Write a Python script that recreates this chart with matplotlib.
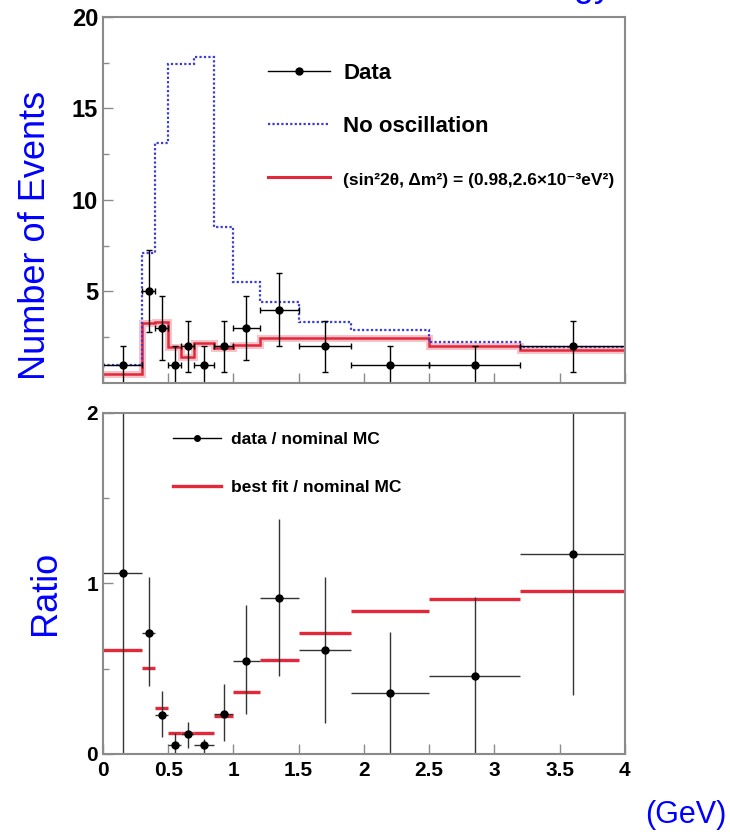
import numpy as np
import matplotlib
matplotlib.use("Agg")
import matplotlib.pyplot as plt
from matplotlib.lines import Line2D

plt.rcParams['font.family'] = ['Liberation Sans', 'DejaVu Sans']

#####################################################################################
# binning and contents
edges = [0.0, 0.3, 0.4, 0.5, 0.6, 0.7, 0.85, 1.0, 1.2, 1.5, 1.9, 2.5, 3.2, 4.0]

data_counts = [1, 5, 3, 1, 2, 1, 2, 3, 4, 2, 1, 1, 2]
data_err = [1.0, 2.24, 1.73, 1.0, 1.41, 1.0, 1.41, 1.73, 2.0, 1.41, 1.0, 1.0, 1.41]

no_osc = [1.0, 7.1, 13.1, 17.4, 17.4, 17.8, 8.5, 5.5, 4.45, 3.35, 2.9, 2.25, 1.95]
best_fit = [0.5, 3.25, 3.35, 1.95, 1.4, 2.2, 1.9, 2.05, 2.45, 2.45, 2.45, 2.0, 1.78]

ratio_data = [1.06, 0.71, 0.23, 0.055, 0.115, 0.055, 0.235, 0.545, 0.915, 0.61, 0.355, 0.46, 1.175]
ratio_lo = [0.0, 0.40, 0.10, 0.0, 0.035, 0.0, 0.075, 0.235, 0.455, 0.18, 0.0, 0.0, 0.345]
ratio_hi = [2.2, 1.04, 0.37, 0.125, 0.19, 0.09, 0.41, 0.875, 1.375, 1.04, 0.715, 0.92, 2.2]
ratio_fit = [0.61, 0.505, 0.27, 0.125, 0.12, 0.12, 0.225, 0.365, 0.55, 0.71, 0.84, 0.91, 0.955]

x_ticks = [0, 0.5, 1, 1.5, 2, 2.5, 3, 3.5, 4]
x_ticklabels = ['0', '0.5', '1', '1.5', '2', '2.5', '3', '3.5', '4']

#####################################################################################
blue = '#0000ff'
red = '#e3283a'
pink = '#f6a9b2'
dotblue = '#3b3bd6'
framecol = '#8a8a8a'

edges = np.array(edges)
centers = 0.5 * (edges[:-1] + edges[1:])
halfw = 0.5 * (edges[1:] - edges[:-1])

fig = plt.figure(figsize=(7.3, 8.32), dpi=100)
ax1 = fig.add_axes([0.141, 0.5397, 0.715, 0.440])
ax2 = fig.add_axes([0.141, 0.0938, 0.715, 0.410])

def style(ax, labsize):
    for s in ax.spines.values():
        s.set_color(framecol)
        s.set_linewidth(1.5)
    ax.tick_params(which='both', direction='in', color=framecol, width=1.0,
                   labelsize=labsize, top=False, right=False)
    ax.tick_params(which='major', length=7)
    ax.tick_params(which='minor', length=4)
    for t in ax.get_xticklabels() + ax.get_yticklabels():
        t.set_fontweight('bold')

#####################################################################################
# top panel: event counts
ax1.stairs(best_fit, edges, baseline=None, color=pink, lw=5, alpha=0.7)
ax1.stairs(best_fit, edges, baseline=None, color=red, lw=1.8)
ax1.stairs(no_osc, edges, baseline=None, color=dotblue, lw=1.6, linestyle=(0, (1, 1)))
ax1.errorbar(centers, data_counts, xerr=halfw, yerr=data_err, fmt='o', color='k',
             ms=5, elinewidth=1.0, capsize=2, capthick=1.0)

ax1.set_xlim(0, 4)
ax1.set_ylim(0, 20)
ax1.set_xticks(x_ticks)
ax1.set_xticklabels([])
ax1.set_yticks([5, 10, 15, 20])
ax1.set_yticks([2.5, 7.5, 12.5, 17.5], minor=True)
style(ax1, 17)

h1 = [Line2D([], [], color='k', marker='o', ms=5, lw=1.0),
      Line2D([], [], color=dotblue, lw=1.6, linestyle=(0, (1, 1))),
      Line2D([], [], color=red, lw=2.2)]
l1 = ['Data', 'No oscillation', '(sin²2θ, Δm²) = (0.98,2.6×10⁻³eV²)']
leg1 = ax1.legend(h1, l1, loc='upper left', bbox_to_anchor=(0.316, 0.874),
                  frameon=False, handlelength=2.8, handletextpad=0.6,
                  labelspacing=1.45, borderpad=0, borderaxespad=0,
                  prop={'weight': 'bold', 'size': 16})
leg1.get_texts()[2].set_fontsize(12.5)

#####################################################################################
# bottom panel: ratios to nominal MC
ax2.hlines(ratio_fit, edges[:-1], edges[1:], color=red, lw=2.4)
ratio_data = np.array(ratio_data)
yerr = [ratio_data - np.array(ratio_lo), np.array(ratio_hi) - ratio_data]
ax2.errorbar(centers, ratio_data, xerr=halfw, yerr=yerr, fmt='o', color='k',
             ecolor='#333333', ms=5, elinewidth=1.0, capsize=0)

ax2.set_xlim(0, 4)
ax2.set_ylim(0, 2)
ax2.set_xticks(x_ticks)
ax2.set_xticklabels(x_ticklabels)
ax2.set_yticks([0, 1, 2])
ax2.set_yticks([0.5, 1.5], minor=True)
style(ax2, 15)
ax2.tick_params(axis='x', pad=5)

h2 = [Line2D([], [], color='k', marker='o', ms=4, lw=1.0),
      Line2D([], [], color=red, lw=2.4)]
l2 = ['data / nominal MC', 'best fit / nominal MC']
ax2.legend(h2, l2, loc='upper left', bbox_to_anchor=(0.134, 0.945),
           frameon=False, handlelength=2.8, handletextpad=0.55,
           labelspacing=1.9, borderpad=0, borderaxespad=0,
           prop={'weight': 'bold', 'size': 12.5})

#####################################################################################
fig.text(36 / 730, 1 - 235 / 832, 'Number of Events', rotation=90, color=blue,
         fontsize=26, ha='center', va='center')
fig.text(46 / 730, 1 - 593 / 832, 'Ratio', rotation=90, color=blue,
         fontsize=26, ha='center', va='center')
fig.text(686 / 730, 1 - 815 / 832, '(GeV)', color=blue, fontsize=22,
         ha='center', va='center')
fig.text(612 / 730, 1 + 4.5 / 832, 'Reconstructed energy', color=blue,
         fontsize=26, ha='right', va='baseline')

fig.savefig('out.png', dpi=100)
